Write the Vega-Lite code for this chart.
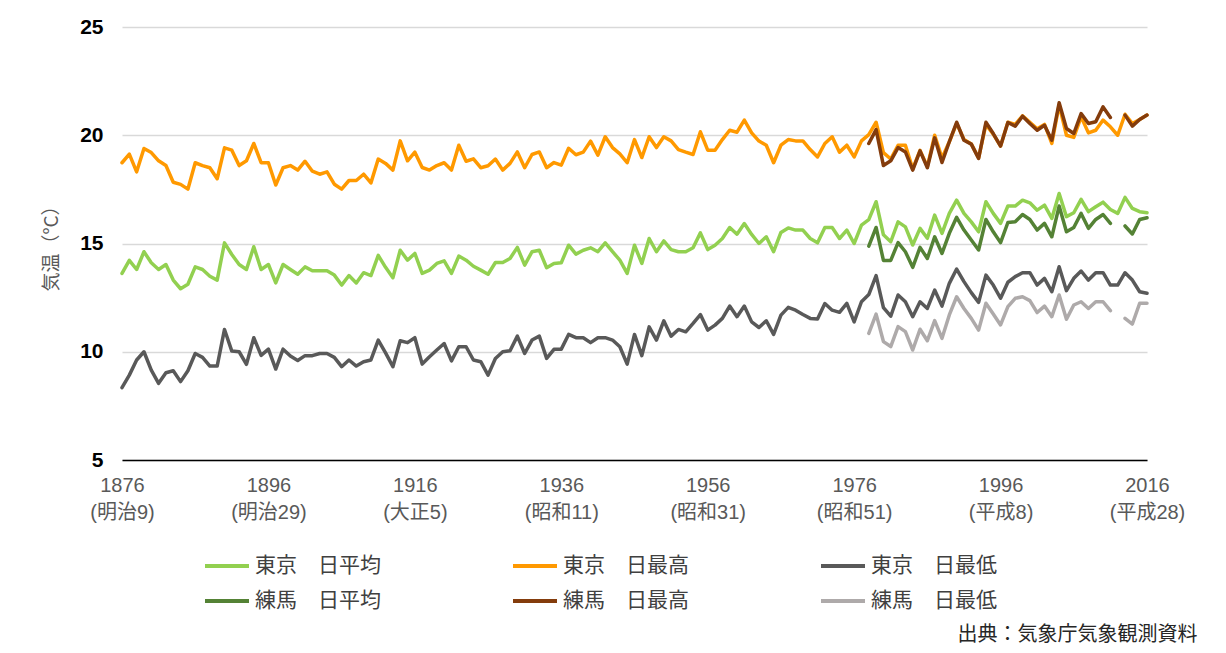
{
"$schema": "https://vega.github.io/schema/vega-lite/v6.json",
"width": 1025, "height": 433,
"autosize": {"type": "none"},
"padding": {"left": 122, "top": 27, "right": 79, "bottom": 193},
"background": "white",
"config": {"view": {"stroke": null}, "font": "Noto Sans CJK JP"},
"datasets": {
"tm": [
{"s":"東京　日平均","year":1876,"t":13.62},{"s":"東京　日平均","year":1877,"t":14.22},{"s":"東京　日平均","year":1878,"t":13.8},{"s":"東京　日平均","year":1879,"t":14.62},{"s":"東京　日平均","year":1880,"t":14.11},{"s":"東京　日平均","year":1881,"t":13.8},{"s":"東京　日平均","year":1882,"t":14.03},{"s":"東京　日平均","year":1883,"t":13.31},{"s":"東京　日平均","year":1884,"t":12.91},{"s":"東京　日平均","year":1885,"t":13.12},
{"s":"東京　日平均","year":1886,"t":13.92},{"s":"東京　日平均","year":1887,"t":13.8},{"s":"東京　日平均","year":1888,"t":13.49},{"s":"東京　日平均","year":1889,"t":13.31},{"s":"東京　日平均","year":1890,"t":15.03},{"s":"東京　日平均","year":1891,"t":14.49},{"s":"東京　日平均","year":1892,"t":14.03},{"s":"東京　日平均","year":1893,"t":13.8},{"s":"東京　日平均","year":1894,"t":14.85},{"s":"東京　日平均","year":1895,"t":13.8},
{"s":"東京　日平均","year":1896,"t":14.03},{"s":"東京　日平均","year":1897,"t":13.18},{"s":"東京　日平均","year":1898,"t":14.03},{"s":"東京　日平均","year":1899,"t":13.8},{"s":"東京　日平均","year":1900,"t":13.58},{"s":"東京　日平均","year":1901,"t":13.92},{"s":"東京　日平均","year":1902,"t":13.74},{"s":"東京　日平均","year":1903,"t":13.74},{"s":"東京　日平均","year":1904,"t":13.74},{"s":"東京　日平均","year":1905,"t":13.54},
{"s":"東京　日平均","year":1906,"t":13.08},{"s":"東京　日平均","year":1907,"t":13.52},{"s":"東京　日平均","year":1908,"t":13.18},{"s":"東京　日平均","year":1909,"t":13.65},{"s":"東京　日平均","year":1910,"t":13.52},{"s":"東京　日平均","year":1911,"t":14.45},{"s":"東京　日平均","year":1912,"t":13.9},{"s":"東京　日平均","year":1913,"t":13.42},{"s":"東京　日平均","year":1914,"t":14.69},{"s":"東京　日平均","year":1915,"t":14.23},
{"s":"東京　日平均","year":1916,"t":14.54},{"s":"東京　日平均","year":1917,"t":13.62},{"s":"東京　日平均","year":1918,"t":13.77},{"s":"東京　日平均","year":1919,"t":14.08},{"s":"東京　日平均","year":1920,"t":14.2},{"s":"東京　日平均","year":1921,"t":13.62},{"s":"東京　日平均","year":1922,"t":14.42},{"s":"東京　日平均","year":1923,"t":14.23},{"s":"東京　日平均","year":1924,"t":13.95},{"s":"東京　日平均","year":1925,"t":13.77},
{"s":"東京　日平均","year":1926,"t":13.58},{"s":"東京　日平均","year":1927,"t":14.12},{"s":"東京　日平均","year":1928,"t":14.12},{"s":"東京　日平均","year":1929,"t":14.31},{"s":"東京　日平均","year":1930,"t":14.82},{"s":"東京　日平均","year":1931,"t":14.0},{"s":"東京　日平均","year":1932,"t":14.62},{"s":"東京　日平均","year":1933,"t":14.69},{"s":"東京　日平均","year":1934,"t":13.88},{"s":"東京　日平均","year":1935,"t":14.08},
{"s":"東京　日平均","year":1936,"t":14.11},{"s":"東京　日平均","year":1937,"t":14.92},{"s":"東京　日平均","year":1938,"t":14.51},{"s":"東京　日平均","year":1939,"t":14.69},{"s":"東京　日平均","year":1940,"t":14.8},{"s":"東京　日平均","year":1941,"t":14.62},{"s":"東京　日平均","year":1942,"t":15.03},{"s":"東京　日平均","year":1943,"t":14.62},{"s":"東京　日平均","year":1944,"t":14.23},{"s":"東京　日平均","year":1945,"t":13.62},
{"s":"東京　日平均","year":1946,"t":14.92},{"s":"東京　日平均","year":1947,"t":14.08},{"s":"東京　日平均","year":1948,"t":15.23},{"s":"東京　日平均","year":1949,"t":14.62},{"s":"東京　日平均","year":1950,"t":15.12},{"s":"東京　日平均","year":1951,"t":14.72},{"s":"東京　日平均","year":1952,"t":14.62},{"s":"東京　日平均","year":1953,"t":14.62},{"s":"東京　日平均","year":1954,"t":14.8},{"s":"東京　日平均","year":1955,"t":15.49},
{"s":"東京　日平均","year":1956,"t":14.72},{"s":"東京　日平均","year":1957,"t":14.92},{"s":"東京　日平均","year":1958,"t":15.23},{"s":"東京　日平均","year":1959,"t":15.74},{"s":"東京　日平均","year":1960,"t":15.43},{"s":"東京　日平均","year":1961,"t":15.92},{"s":"東京　日平均","year":1962,"t":15.42},{"s":"東京　日平均","year":1963,"t":15.0},{"s":"東京　日平均","year":1964,"t":15.31},{"s":"東京　日平均","year":1965,"t":14.62},
{"s":"東京　日平均","year":1966,"t":15.51},{"s":"東京　日平均","year":1967,"t":15.72},{"s":"東京　日平均","year":1968,"t":15.62},{"s":"東京　日平均","year":1969,"t":15.62},{"s":"東京　日平均","year":1970,"t":15.23},{"s":"東京　日平均","year":1971,"t":15.03},{"s":"東京　日平均","year":1972,"t":15.74},{"s":"東京　日平均","year":1973,"t":15.74},{"s":"東京　日平均","year":1974,"t":15.23},{"s":"東京　日平均","year":1975,"t":15.62},
{"s":"東京　日平均","year":1976,"t":15.0},{"s":"東京　日平均","year":1977,"t":15.85},{"s":"東京　日平均","year":1978,"t":16.1},{"s":"東京　日平均","year":1979,"t":16.93},{"s":"東京　日平均","year":1980,"t":15.4},{"s":"東京　日平均","year":1981,"t":15.08},{"s":"東京　日平均","year":1982,"t":16.0},{"s":"東京　日平均","year":1983,"t":15.77},{"s":"東京　日平均","year":1984,"t":14.93},{"s":"東京　日平均","year":1985,"t":15.7},
{"s":"東京　日平均","year":1986,"t":15.24},{"s":"東京　日平均","year":1987,"t":16.31},{"s":"東京　日平均","year":1988,"t":15.47},{"s":"東京　日平均","year":1989,"t":16.39},{"s":"東京　日平均","year":1990,"t":17.0},{"s":"東京　日平均","year":1991,"t":16.39},{"s":"東京　日平均","year":1992,"t":16.0},{"s":"東京　日平均","year":1993,"t":15.54},{"s":"東京　日平均","year":1994,"t":16.93},{"s":"東京　日平均","year":1995,"t":16.39},
{"s":"東京　日平均","year":1996,"t":15.93},{"s":"東京　日平均","year":1997,"t":16.73},{"s":"東京　日平均","year":1998,"t":16.73},{"s":"東京　日平均","year":1999,"t":17.0},{"s":"東京　日平均","year":2000,"t":16.88},{"s":"東京　日平均","year":2001,"t":16.54},{"s":"東京　日平均","year":2002,"t":16.77},{"s":"東京　日平均","year":2003,"t":16.16},{"s":"東京　日平均","year":2004,"t":17.31},{"s":"東京　日平均","year":2005,"t":16.24},
{"s":"東京　日平均","year":2006,"t":16.42},{"s":"東京　日平均","year":2007,"t":17.04},{"s":"東京　日平均","year":2008,"t":16.47},{"s":"東京　日平均","year":2009,"t":16.7},{"s":"東京　日平均","year":2010,"t":16.91},{"s":"東京　日平均","year":2011,"t":16.57},{"s":"東京　日平均","year":2012,"t":16.39},{"s":"東京　日平均","year":2013,"t":17.13},{"s":"東京　日平均","year":2014,"t":16.62},{"s":"東京　日平均","year":2015,"t":16.47},
{"s":"東京　日平均","year":2016,"t":16.42}
],
"tx": [
{"s":"東京　日最高","year":1876,"t":18.73},{"s":"東京　日最高","year":1877,"t":19.13},{"s":"東京　日最高","year":1878,"t":18.31},{"s":"東京　日最高","year":1879,"t":19.39},{"s":"東京　日最高","year":1880,"t":19.2},{"s":"東京　日最高","year":1881,"t":18.82},{"s":"東京　日最高","year":1882,"t":18.6},{"s":"東京　日最高","year":1883,"t":17.83},{"s":"東京　日最高","year":1884,"t":17.73},{"s":"東京　日最高","year":1885,"t":17.51},
{"s":"東京　日最高","year":1886,"t":18.73},{"s":"東京　日最高","year":1887,"t":18.6},{"s":"東京　日最高","year":1888,"t":18.5},{"s":"東京　日最高","year":1889,"t":17.99},{"s":"東京　日最高","year":1890,"t":19.42},{"s":"東京　日最高","year":1891,"t":19.31},{"s":"東京　日最高","year":1892,"t":18.6},{"s":"東京　日最高","year":1893,"t":18.82},{"s":"東京　日最高","year":1894,"t":19.62},{"s":"東京　日最高","year":1895,"t":18.73},
{"s":"東京　日最高","year":1896,"t":18.73},{"s":"東京　日最高","year":1897,"t":17.7},{"s":"東京　日最高","year":1898,"t":18.5},{"s":"東京　日最高","year":1899,"t":18.6},{"s":"東京　日最高","year":1900,"t":18.39},{"s":"東京　日最高","year":1901,"t":18.8},{"s":"東京　日最高","year":1902,"t":18.34},{"s":"東京　日最高","year":1903,"t":18.2},{"s":"東京　日最高","year":1904,"t":18.31},{"s":"東京　日最高","year":1905,"t":17.74},
{"s":"東京　日最高","year":1906,"t":17.51},{"s":"東京　日最高","year":1907,"t":17.91},{"s":"東京　日最高","year":1908,"t":17.91},{"s":"東京　日最高","year":1909,"t":18.2},{"s":"東京　日最高","year":1910,"t":17.8},{"s":"東京　日最高","year":1911,"t":18.9},{"s":"東京　日最高","year":1912,"t":18.7},{"s":"東京　日最高","year":1913,"t":18.39},{"s":"東京　日最高","year":1914,"t":19.74},{"s":"東京　日最高","year":1915,"t":18.82},
{"s":"東京　日最高","year":1916,"t":19.22},{"s":"東京　日最高","year":1917,"t":18.51},{"s":"東京　日最高","year":1918,"t":18.39},{"s":"東京　日最高","year":1919,"t":18.6},{"s":"東京　日最高","year":1920,"t":18.73},{"s":"東京　日最高","year":1921,"t":18.39},{"s":"東京　日最高","year":1922,"t":19.54},{"s":"東京　日最高","year":1923,"t":18.8},{"s":"東京　日最高","year":1924,"t":18.91},{"s":"東京　日最高","year":1925,"t":18.5},
{"s":"東京　日最高","year":1926,"t":18.59},{"s":"東京　日最高","year":1927,"t":18.9},{"s":"東京　日最高","year":1928,"t":18.39},{"s":"東京　日最高","year":1929,"t":18.7},{"s":"東京　日最高","year":1930,"t":19.23},{"s":"東京　日最高","year":1931,"t":18.5},{"s":"東京　日最高","year":1932,"t":19.11},{"s":"東京　日最高","year":1933,"t":19.23},{"s":"東京　日最高","year":1934,"t":18.5},{"s":"東京　日最高","year":1935,"t":18.74},
{"s":"東京　日最高","year":1936,"t":18.62},{"s":"東京　日最高","year":1937,"t":19.4},{"s":"東京　日最高","year":1938,"t":19.1},{"s":"東京　日最高","year":1939,"t":19.22},{"s":"東京　日最高","year":1940,"t":19.73},{"s":"東京　日最高","year":1941,"t":19.08},{"s":"東京　日最高","year":1942,"t":19.93},{"s":"東京　日最高","year":1943,"t":19.43},{"s":"東京　日最高","year":1944,"t":19.14},{"s":"東京　日最高","year":1945,"t":18.73},
{"s":"東京　日最高","year":1946,"t":19.8},{"s":"東京　日最高","year":1947,"t":18.97},{"s":"東京　日最高","year":1948,"t":19.93},{"s":"東京　日最高","year":1949,"t":19.43},{"s":"東京　日最高","year":1950,"t":19.93},{"s":"東京　日最高","year":1951,"t":19.74},{"s":"東京　日最高","year":1952,"t":19.34},{"s":"東京　日最高","year":1953,"t":19.22},{"s":"東京　日最高","year":1954,"t":19.11},{"s":"東京　日最高","year":1955,"t":20.16},
{"s":"東京　日最高","year":1956,"t":19.31},{"s":"東京　日最高","year":1957,"t":19.31},{"s":"東京　日最高","year":1958,"t":19.8},{"s":"東京　日最高","year":1959,"t":20.23},{"s":"東京　日最高","year":1960,"t":20.14},{"s":"東京　日最高","year":1961,"t":20.7},{"s":"東京　日最高","year":1962,"t":20.11},{"s":"東京　日最高","year":1963,"t":19.73},{"s":"東京　日最高","year":1964,"t":19.54},{"s":"東京　日最高","year":1965,"t":18.73},
{"s":"東京　日最高","year":1966,"t":19.54},{"s":"東京　日最高","year":1967,"t":19.8},{"s":"東京　日最高","year":1968,"t":19.74},{"s":"東京　日最高","year":1969,"t":19.74},{"s":"東京　日最高","year":1970,"t":19.34},{"s":"東京　日最高","year":1971,"t":19.0},{"s":"東京　日最高","year":1972,"t":19.62},{"s":"東京　日最高","year":1973,"t":19.93},{"s":"東京　日最高","year":1974,"t":19.22},{"s":"東京　日最高","year":1975,"t":19.54},
{"s":"東京　日最高","year":1976,"t":19.0},{"s":"東京　日最高","year":1977,"t":19.74},{"s":"東京　日最高","year":1978,"t":20.03},{"s":"東京　日最高","year":1979,"t":20.6},{"s":"東京　日最高","year":1980,"t":19.2},{"s":"東京　日最高","year":1981,"t":18.9},{"s":"東京　日最高","year":1982,"t":19.54},{"s":"東京　日最高","year":1983,"t":19.54},{"s":"東京　日最高","year":1984,"t":18.45},{"s":"東京　日最高","year":1985,"t":19.3},
{"s":"東京　日最高","year":1986,"t":18.55},{"s":"東京　日最高","year":1987,"t":20.0},{"s":"東京　日最高","year":1988,"t":18.95},{"s":"東京　日最高","year":1989,"t":19.7},{"s":"東京　日最高","year":1990,"t":20.55},{"s":"東京　日最高","year":1991,"t":19.8},{"s":"東京　日最高","year":1992,"t":19.6},{"s":"東京　日最高","year":1993,"t":18.95},{"s":"東京　日最高","year":1994,"t":20.5},{"s":"東京　日最高","year":1995,"t":20.05},
{"s":"東京　日最高","year":1996,"t":19.5},{"s":"東京　日最高","year":1997,"t":20.6},{"s":"東京　日最高","year":1998,"t":20.5},{"s":"東京　日最高","year":1999,"t":20.9},{"s":"東京　日最高","year":2000,"t":20.6},{"s":"東京　日最高","year":2001,"t":20.3},{"s":"東京　日最高","year":2002,"t":20.5},{"s":"東京　日最高","year":2003,"t":19.62},{"s":"東京　日最高","year":2004,"t":21.4},{"s":"東京　日最高","year":2005,"t":20.0},
{"s":"東京　日最高","year":2006,"t":19.9},{"s":"東京　日最高","year":2007,"t":20.85},{"s":"東京　日最高","year":2008,"t":20.11},{"s":"東京　日最高","year":2009,"t":20.23},{"s":"東京　日最高","year":2010,"t":20.7},{"s":"東京　日最高","year":2011,"t":20.39},{"s":"東京　日最高","year":2012,"t":20.0},{"s":"東京　日最高","year":2013,"t":20.97},{"s":"東京　日最高","year":2014,"t":20.54},{"s":"東京　日最高","year":2015,"t":20.73},
{"s":"東京　日最高","year":2016,"t":20.93}
],
"tn": [
{"s":"東京　日最低","year":1876,"t":8.34},{"s":"東京　日最低","year":1877,"t":8.92},{"s":"東京　日最低","year":1878,"t":9.62},{"s":"東京　日最低","year":1879,"t":10.0},{"s":"東京　日最低","year":1880,"t":9.15},{"s":"東京　日最低","year":1881,"t":8.54},{"s":"東京　日最低","year":1882,"t":9.03},{"s":"東京　日最低","year":1883,"t":9.12},{"s":"東京　日最低","year":1884,"t":8.62},{"s":"東京　日最低","year":1885,"t":9.12},
{"s":"東京　日最低","year":1886,"t":9.92},{"s":"東京　日最低","year":1887,"t":9.74},{"s":"東京　日最低","year":1888,"t":9.34},{"s":"東京　日最低","year":1889,"t":9.34},{"s":"東京　日最低","year":1890,"t":11.03},{"s":"東京　日最低","year":1891,"t":10.03},{"s":"東京　日最低","year":1892,"t":10.0},{"s":"東京　日最低","year":1893,"t":9.42},{"s":"東京　日最低","year":1894,"t":10.65},{"s":"東京　日最低","year":1895,"t":9.83},
{"s":"東京　日最低","year":1896,"t":10.12},{"s":"東京　日最低","year":1897,"t":9.2},{"s":"東京　日最低","year":1898,"t":10.12},{"s":"東京　日最低","year":1899,"t":9.8},{"s":"東京　日最低","year":1900,"t":9.6},{"s":"東京　日最低","year":1901,"t":9.82},{"s":"東京　日最低","year":1902,"t":9.82},{"s":"東京　日最低","year":1903,"t":9.92},{"s":"東京　日最低","year":1904,"t":9.92},{"s":"東京　日最低","year":1905,"t":9.74},
{"s":"東京　日最低","year":1906,"t":9.31},{"s":"東京　日最低","year":1907,"t":9.62},{"s":"東京　日最低","year":1908,"t":9.34},{"s":"東京　日最低","year":1909,"t":9.54},{"s":"東京　日最低","year":1910,"t":9.62},{"s":"東京　日最低","year":1911,"t":10.54},{"s":"東京　日最低","year":1912,"t":9.95},{"s":"東京　日最低","year":1913,"t":9.31},{"s":"東京　日最低","year":1914,"t":10.51},{"s":"東京　日最低","year":1915,"t":10.42},
{"s":"東京　日最低","year":1916,"t":10.65},{"s":"東京　日最低","year":1917,"t":9.43},{"s":"東京　日最低","year":1918,"t":9.77},{"s":"東京　日最低","year":1919,"t":10.08},{"s":"東京　日最低","year":1920,"t":10.38},{"s":"東京　日最低","year":1921,"t":9.58},{"s":"東京　日最低","year":1922,"t":10.23},{"s":"東京　日最低","year":1923,"t":10.23},{"s":"東京　日最低","year":1924,"t":9.62},{"s":"東京　日最低","year":1925,"t":9.54},
{"s":"東京　日最低","year":1926,"t":8.92},{"s":"東京　日最低","year":1927,"t":9.69},{"s":"東京　日最低","year":1928,"t":10.0},{"s":"東京　日最低","year":1929,"t":10.05},{"s":"東京　日最低","year":1930,"t":10.72},{"s":"東京　日最低","year":1931,"t":9.92},{"s":"東京　日最低","year":1932,"t":10.54},{"s":"東京　日最低","year":1933,"t":10.72},{"s":"東京　日最低","year":1934,"t":9.69},{"s":"東京　日最低","year":1935,"t":10.11},
{"s":"東京　日最低","year":1936,"t":10.12},{"s":"東京　日最低","year":1937,"t":10.8},{"s":"東京　日最低","year":1938,"t":10.65},{"s":"東京　日最低","year":1939,"t":10.65},{"s":"東京　日最低","year":1940,"t":10.42},{"s":"東京　日最低","year":1941,"t":10.65},{"s":"東京　日最低","year":1942,"t":10.65},{"s":"東京　日最低","year":1943,"t":10.54},{"s":"東京　日最低","year":1944,"t":10.23},{"s":"東京　日最低","year":1945,"t":9.43},
{"s":"東京　日最低","year":1946,"t":10.8},{"s":"東京　日最低","year":1947,"t":9.82},{"s":"東京　日最低","year":1948,"t":11.15},{"s":"東京　日最低","year":1949,"t":10.54},{"s":"東京　日最低","year":1950,"t":11.43},{"s":"東京　日最低","year":1951,"t":10.72},{"s":"東京　日最低","year":1952,"t":11.03},{"s":"東京　日最低","year":1953,"t":10.92},{"s":"東京　日最低","year":1954,"t":11.31},{"s":"東京　日最低","year":1955,"t":11.72},
{"s":"東京　日最低","year":1956,"t":11.0},{"s":"東京　日最低","year":1957,"t":11.23},{"s":"東京　日最低","year":1958,"t":11.54},{"s":"東京　日最低","year":1959,"t":12.11},{"s":"東京　日最低","year":1960,"t":11.62},{"s":"東京　日最低","year":1961,"t":12.11},{"s":"東京　日最低","year":1962,"t":11.38},{"s":"東京　日最低","year":1963,"t":11.12},{"s":"東京　日最低","year":1964,"t":11.43},{"s":"東京　日最低","year":1965,"t":10.8},
{"s":"東京　日最低","year":1966,"t":11.69},{"s":"東京　日最低","year":1967,"t":12.05},{"s":"東京　日最低","year":1968,"t":11.92},{"s":"東京　日最低","year":1969,"t":11.72},{"s":"東京　日最低","year":1970,"t":11.54},{"s":"東京　日最低","year":1971,"t":11.51},{"s":"東京　日最低","year":1972,"t":12.23},{"s":"東京　日最低","year":1973,"t":11.92},{"s":"東京　日最低","year":1974,"t":11.82},{"s":"東京　日最低","year":1975,"t":12.23},
{"s":"東京　日最低","year":1976,"t":11.38},{"s":"東京　日最低","year":1977,"t":12.31},{"s":"東京　日最低","year":1978,"t":12.64},{"s":"東京　日最低","year":1979,"t":13.52},{"s":"東京　日最低","year":1980,"t":12.04},{"s":"東京　日最低","year":1981,"t":11.64},{"s":"東京　日最低","year":1982,"t":12.62},{"s":"東京　日最低","year":1983,"t":12.31},{"s":"東京　日最低","year":1984,"t":11.62},{"s":"東京　日最低","year":1985,"t":12.31},
{"s":"東京　日最低","year":1986,"t":12.0},{"s":"東京　日最低","year":1987,"t":12.85},{"s":"東京　日最低","year":1988,"t":12.11},{"s":"東京　日最低","year":1989,"t":13.16},{"s":"東京　日最低","year":1990,"t":13.82},{"s":"東京　日最低","year":1991,"t":13.24},{"s":"東京　日最低","year":1992,"t":12.73},{"s":"東京　日最低","year":1993,"t":12.28},{"s":"東京　日最低","year":1994,"t":13.54},{"s":"東京　日最低","year":1995,"t":13.08},
{"s":"東京　日最低","year":1996,"t":12.47},{"s":"東京　日最低","year":1997,"t":13.21},{"s":"東京　日最低","year":1998,"t":13.47},{"s":"東京　日最低","year":1999,"t":13.65},{"s":"東京　日最低","year":2000,"t":13.65},{"s":"東京　日最低","year":2001,"t":13.08},{"s":"東京　日最低","year":2002,"t":13.39},{"s":"東京　日最低","year":2003,"t":12.77},{"s":"東京　日最低","year":2004,"t":13.93},{"s":"東京　日最低","year":2005,"t":12.82},
{"s":"東京　日最低","year":2006,"t":13.39},{"s":"東京　日最低","year":2007,"t":13.73},{"s":"東京　日最低","year":2008,"t":13.31},{"s":"東京　日最低","year":2009,"t":13.65},{"s":"東京　日最低","year":2010,"t":13.65},{"s":"東京　日最低","year":2011,"t":13.08},{"s":"東京　日最低","year":2012,"t":13.08},{"s":"東京　日最低","year":2013,"t":13.65},{"s":"東京　日最低","year":2014,"t":13.31},{"s":"東京　日最低","year":2015,"t":12.77},
{"s":"東京　日最低","year":2016,"t":12.7}
],
"nm": [
{"s":"練馬　日平均","year":1978,"t":14.88},{"s":"練馬　日平均","year":1979,"t":15.74},{"s":"練馬　日平均","year":1980,"t":14.22},{"s":"練馬　日平均","year":1981,"t":14.22},{"s":"練馬　日平均","year":1982,"t":15.04},{"s":"練馬　日平均","year":1983,"t":14.62},{"s":"練馬　日平均","year":1984,"t":13.9},{"s":"練馬　日平均","year":1985,"t":14.82},{"s":"練馬　日平均","year":1986,"t":14.31},{"s":"練馬　日平均","year":1987,"t":15.31},
{"s":"練馬　日平均","year":1988,"t":14.54},{"s":"練馬　日平均","year":1989,"t":15.47},{"s":"練馬　日平均","year":1990,"t":16.21},{"s":"練馬　日平均","year":1991,"t":15.62},{"s":"練馬　日平均","year":1992,"t":15.16},{"s":"練馬　日平均","year":1993,"t":14.7},{"s":"練馬　日平均","year":1994,"t":16.11},{"s":"練馬　日平均","year":1995,"t":15.54},{"s":"練馬　日平均","year":1996,"t":15.04},{"s":"練馬　日平均","year":1997,"t":15.97},
{"s":"練馬　日平均","year":1998,"t":16.0},{"s":"練馬　日平均","year":1999,"t":16.34},{"s":"練馬　日平均","year":2000,"t":16.11},{"s":"練馬　日平均","year":2001,"t":15.62},{"s":"練馬　日平均","year":2002,"t":15.93},{"s":"練馬　日平均","year":2003,"t":15.31},{"s":"練馬　日平均","year":2004,"t":16.73},{"s":"練馬　日平均","year":2005,"t":15.54},{"s":"練馬　日平均","year":2006,"t":15.74},{"s":"練馬　日平均","year":2007,"t":16.39},
{"s":"練馬　日平均","year":2008,"t":15.7},{"s":"練馬　日平均","year":2009,"t":16.11},{"s":"練馬　日平均","year":2010,"t":16.34},{"s":"練馬　日平均","year":2011,"t":15.93},{"s":"練馬　日平均","year":2012,"t":null},{"s":"練馬　日平均","year":2013,"t":15.81},{"s":"練馬　日平均","year":2014,"t":15.44},{"s":"練馬　日平均","year":2015,"t":16.11},{"s":"練馬　日平均","year":2016,"t":16.19}
],
"nx": [
{"s":"練馬　日最高","year":1978,"t":19.62},{"s":"練馬　日最高","year":1979,"t":20.26},{"s":"練馬　日最高","year":1980,"t":18.6},{"s":"練馬　日最高","year":1981,"t":18.82},{"s":"練馬　日最高","year":1982,"t":19.43},{"s":"練馬　日最高","year":1983,"t":19.23},{"s":"練馬　日最高","year":1984,"t":18.39},{"s":"練馬　日最高","year":1985,"t":19.28},{"s":"練馬　日最高","year":1986,"t":18.5},{"s":"練馬　日最高","year":1987,"t":19.88},
{"s":"練馬　日最高","year":1988,"t":18.74},{"s":"練馬　日最高","year":1989,"t":19.7},{"s":"練馬　日最高","year":1990,"t":20.6},{"s":"練馬　日最高","year":1991,"t":19.77},{"s":"練馬　日最高","year":1992,"t":19.59},{"s":"練馬　日最高","year":1993,"t":18.93},{"s":"練馬　日最高","year":1994,"t":20.6},{"s":"練馬　日最高","year":1995,"t":20.08},{"s":"練馬　日最高","year":1996,"t":19.5},{"s":"練馬　日最高","year":1997,"t":20.59},
{"s":"練馬　日最高","year":1998,"t":20.42},{"s":"練馬　日最高","year":1999,"t":20.88},{"s":"練馬　日最高","year":2000,"t":20.54},{"s":"練馬　日最高","year":2001,"t":20.23},{"s":"練馬　日最高","year":2002,"t":20.46},{"s":"練馬　日最高","year":2003,"t":19.77},{"s":"練馬　日最高","year":2004,"t":21.5},{"s":"練馬　日最高","year":2005,"t":20.31},{"s":"練馬　日最高","year":2006,"t":20.08},{"s":"練馬　日最高","year":2007,"t":21.0},
{"s":"練馬　日最高","year":2008,"t":20.54},{"s":"練馬　日最高","year":2009,"t":20.62},{"s":"練馬　日最高","year":2010,"t":21.31},{"s":"練馬　日最高","year":2011,"t":20.82},{"s":"練馬　日最高","year":2012,"t":null},{"s":"練馬　日最高","year":2013,"t":20.93},{"s":"練馬　日最高","year":2014,"t":20.42},{"s":"練馬　日最高","year":2015,"t":20.73},{"s":"練馬　日最高","year":2016,"t":20.93}
],
"nn": [
{"s":"練馬　日最低","year":1978,"t":10.85},{"s":"練馬　日最低","year":1979,"t":11.74},{"s":"練馬　日最低","year":1980,"t":10.47},{"s":"練馬　日最低","year":1981,"t":10.24},{"s":"練馬　日最低","year":1982,"t":11.16},{"s":"練馬　日最低","year":1983,"t":10.93},{"s":"練馬　日最低","year":1984,"t":10.08},{"s":"練馬　日最低","year":1985,"t":11.04},{"s":"練馬　日最低","year":1986,"t":10.51},{"s":"練馬　日最低","year":1987,"t":11.44},
{"s":"練馬　日最低","year":1988,"t":10.62},{"s":"練馬　日最低","year":1989,"t":11.7},{"s":"練馬　日最低","year":1990,"t":12.54},{"s":"練馬　日最低","year":1991,"t":12.0},{"s":"練馬　日最低","year":1992,"t":11.54},{"s":"練馬　日最低","year":1993,"t":11.0},{"s":"練馬　日最低","year":1994,"t":12.24},{"s":"練馬　日最低","year":1995,"t":11.74},{"s":"練馬　日最低","year":1996,"t":11.24},{"s":"練馬　日最低","year":1997,"t":12.08},
{"s":"練馬　日最低","year":1998,"t":12.47},{"s":"練馬　日最低","year":1999,"t":12.54},{"s":"練馬　日最低","year":2000,"t":12.36},{"s":"練馬　日最低","year":2001,"t":11.81},{"s":"練馬　日最低","year":2002,"t":12.11},{"s":"練馬　日最低","year":2003,"t":11.62},{"s":"練馬　日最低","year":2004,"t":12.62},{"s":"練馬　日最低","year":2005,"t":11.5},{"s":"練馬　日最低","year":2006,"t":12.16},{"s":"練馬　日最低","year":2007,"t":12.31},
{"s":"練馬　日最低","year":2008,"t":12.0},{"s":"練馬　日最低","year":2009,"t":12.31},{"s":"練馬　日最低","year":2010,"t":12.31},{"s":"練馬　日最低","year":2011,"t":11.9},{"s":"練馬　日最低","year":2012,"t":null},{"s":"練馬　日最低","year":2013,"t":11.54},{"s":"練馬　日最低","year":2014,"t":11.28},{"s":"練馬　日最低","year":2015,"t":12.24},{"s":"練馬　日最低","year":2016,"t":12.24}
]
},
"layer": [
{"data": {"name": "tm"}, "mark": {"type": "line", "strokeWidth": 3.5, "strokeJoin": "round", "strokeCap": "round", "invalid": "break-paths-filter-domains"}, "encoding": {"x": {"field": "year", "type": "quantitative"}, "y": {"field": "t", "type": "quantitative"}, "color": {"field": "s", "type": "nominal"}}},
{"data": {"name": "tx"}, "mark": {"type": "line", "strokeWidth": 3.5, "strokeJoin": "round", "strokeCap": "round", "invalid": "break-paths-filter-domains"}, "encoding": {"x": {"field": "year", "type": "quantitative"}, "y": {"field": "t", "type": "quantitative"}, "color": {"field": "s", "type": "nominal"}}},
{"data": {"name": "tn"}, "mark": {"type": "line", "strokeWidth": 3.5, "strokeJoin": "round", "strokeCap": "round", "invalid": "break-paths-filter-domains"}, "encoding": {"x": {"field": "year", "type": "quantitative"}, "y": {"field": "t", "type": "quantitative"}, "color": {"field": "s", "type": "nominal"}}},
{"data": {"name": "nm"}, "mark": {"type": "line", "strokeWidth": 3.5, "strokeJoin": "round", "strokeCap": "round", "invalid": "break-paths-filter-domains"}, "encoding": {"x": {"field": "year", "type": "quantitative"}, "y": {"field": "t", "type": "quantitative"}, "color": {"field": "s", "type": "nominal"}}},
{"data": {"name": "nx"}, "mark": {"type": "line", "strokeWidth": 3.5, "strokeJoin": "round", "strokeCap": "round", "invalid": "break-paths-filter-domains"}, "encoding": {"x": {"field": "year", "type": "quantitative"}, "y": {"field": "t", "type": "quantitative"}, "color": {"field": "s", "type": "nominal"}}},
{"data": {"name": "nn"}, "mark": {"type": "line", "strokeWidth": 3.5, "strokeJoin": "round", "strokeCap": "round", "invalid": "break-paths-filter-domains"}, "encoding": {"x": {"field": "year", "type": "quantitative"}, "y": {"field": "t", "type": "quantitative"}, "color": {"field": "s", "type": "nominal"}}}
],
"encoding": {
"x": {"field": "year", "type": "quantitative", "scale": {"domain": [1876, 2016], "nice": false, "zero": false},
 "axis": {"values": [1876,1896,1916,1936,1956,1976,1996,2016], "format": "d",
  "labelExpr": "[datum.label, ['(明治9)','(明治29)','(大正5)','(昭和11)','(昭和31)','(昭和51)','(平成8)','(平成28)'][round((datum.value-1876)/20)]]",
  "grid": false, "ticks": false, "domainColor": "#000000", "domainWidth": 1.5,
  "labelFont": "Liberation Sans, Noto Sans CJK JP, sans-serif", "labelFontSize": 20, "labelColor": "#595959",
  "labelPadding": 15, "labelLineHeight": 27, "labelFlush": false, "labelOverlap": false, "labelBound": false,
  "title": "出典：気象庁気象観測資料", "titleX": 1075, "titleY": 174, "titleAlign": "right", "titleBaseline": "middle",
  "titleFont": "Noto Sans CJK JP", "titleFontSize": 20, "titleFontWeight": "normal", "titleColor": "#262626"}},
"y": {"field": "t", "type": "quantitative", "scale": {"domain": [5, 25], "nice": false, "zero": false},
 "axis": {"values": [5,10,15,20,25], "grid": true, "gridColor": "#d9d9d9", "gridWidth": 1.3, "domain": false, "ticks": false,
  "labelFont": "Liberation Sans, sans-serif", "labelFontSize": 21, "labelFontWeight": "bold", "labelColor": "#000000", "labelPadding": 19,
  "title": "気温（°C）", "titleFont": "Noto Sans CJK JP", "titleFontSize": 19, "titleColor": "#595959", "titleFontWeight": "normal", "titlePadding": 18}},
"color": {"field": "s", "type": "nominal",
 "scale": {"domain": ["東京　日平均","東京　日最高","東京　日最低","練馬　日平均","練馬　日最高","練馬　日最低"],
  "range": ["#92D050","#FF9900","#595959","#548235","#843C0C","#AEAAAA"]},
 "legend": {"orient": "none", "legendX": 81, "legendY": 515, "direction": "horizontal", "columns": 3, "title": null,
  "symbolType": "stroke", "symbolSize": 1936, "symbolStrokeWidth": 4, "labelFontSize": 21, "labelColor": "#404040",
  "labelFont": "Noto Sans CJK JP", "columnPadding": 124, "rowPadding": 1, "labelOffset": 4, "padding": 0, "labelLimit": 300}}
}
}
